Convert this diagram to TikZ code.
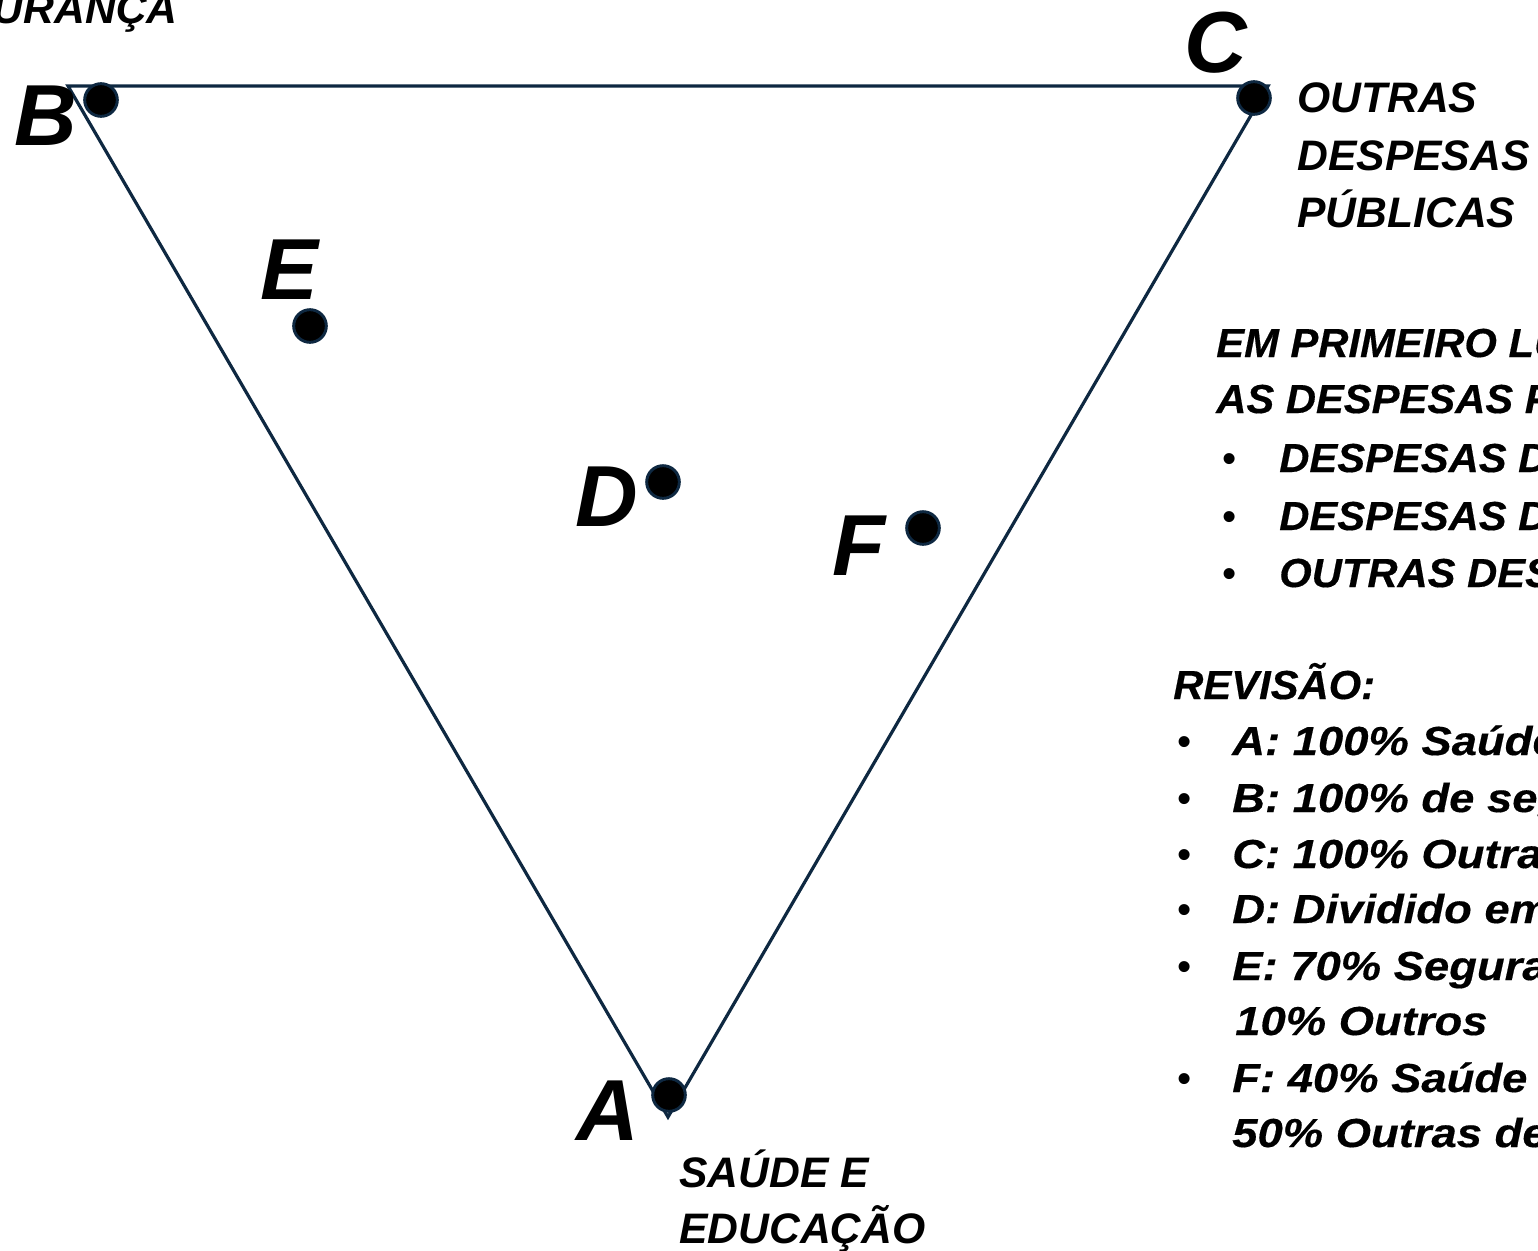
\documentclass[tikz,border=0pt]{standalone}
\usepackage{fontspec}
\setmainfont{Liberation Sans}
\newfontfamily\capfont[FakeStretch=1.03,FakeBold=0.4]{Liberation Sans}
\newfontfamily\widefont[FakeStretch=1.12,FakeBold=0.4]{Liberation Sans}
\definecolor{navy}{HTML}{0E2841}
\begin{document}
\begin{tikzpicture}[x=0.75pt,y=-0.75pt,
  edge/.style={draw=navy,line width=2.4pt,line join=miter},
  dot/.style={circle,fill=black,draw=navy,line width=2.2pt,minimum size=24.5pt,inner sep=0pt},
  big/.style={inner sep=0pt,anchor=base west,font=\fontsize{65}{65}\selectfont\bfseries\itshape},
  lab/.style={inner sep=0pt,anchor=base west,font=\fontsize{32}{32}\selectfont\bfseries\itshape},
  rtxt/.style={inner sep=0pt,anchor=base west,font=\fontsize{30.4}{30.4}\selectfont\capfont\bfseries\itshape},
  rwide/.style={inner sep=0pt,anchor=base west,font=\fontsize{30.4}{30.4}\selectfont\widefont\bfseries\itshape},
  bul/.style={inner sep=0pt,anchor=base west,font=\fontsize{30.4}{30.4}\selectfont}]
\useasboundingbox (0,0) rectangle (1538,1250);
\clip (0,0) rectangle (1538,1250);
\fill[white] (0,0) rectangle (1538,1250);
% triangle vertices
\coordinate (vB) at (68,86);
\coordinate (vC) at (1268,86);
\coordinate (vA) at (668,1117);
\draw[edge] (vB) -- (vC) -- (vA) -- cycle;
% points
\node[dot] (pB) at (101,100) {};
\node[dot] (pC) at (1254,98) {};
\node[dot] (pA) at (669,1095) {};
\node[dot] (pE) at (310,326) {};
\node[dot] (pD) at (663,482) {};
\node[dot] (pF) at (923,528) {};
% letters
\node[big] (lB) at (14,145) {B};
\node[big] (lC) at (1184,72) {C};
\node[big] (lA) at (576,1140) {A};
\node[big] (lE) at (260,299) {E};
\node[big] (lD) at (575,526) {D};
\node[big] (lF) at (832,575) {F};
% corner labels
\node[lab,anchor=base east] (tSeg) at (178,23) {SEGURANÇA};
\node[lab] (tC1) at (1297,112) {OUTRAS};
\node[lab] (tC2) at (1297,170) {DESPESAS};
\node[lab] (tC3) at (1297,227) {PÚBLICAS};
\node[lab] (tA1) at (679,1187) {SAÚDE E};
\node[lab] (tA2) at (679,1243) {EDUCAÇÃO};
% right text, first block
\node[rtxt] (r1) at (1216,357) {EM PRIMEIRO LUGAR, VAMOS SEPARAR};
\node[rtxt] (r2) at (1216,413) {AS DESPESAS PÚBLICAS EM:};
\foreach \yy/\tt [count=\i] in {472/{DESPESAS DE SAÚDE E EDUCAÇÃO},530/{DESPESAS DE SEGURANÇA},587/{OUTRAS DESPESAS PÚBLICAS}}{
  \node[bul] (rb\i) at (1222,\yy) {•};
  \node[rtxt] (rt\i) at (1279,\yy) {\tt};
}
% revision block
\node[rtxt] (rev) at (1173,699) {REVISÃO:};
\foreach \yy/\tt [count=\i] in {755/{A: 100\% Saúde e Educação},812/{B: 100\% de segurança},868/{C: 100\% Outras despesas},923/{D: Dividido em partes iguais},980/{E: 70\% Segurança, 20\% Saúde e},1092/{F: 40\% Saúde e Educação, 10\% Segurança e}}{
  \node[bul] (vb\i) at (1177,\yy) {•};
  \node[rwide] (vt\i) at (1232,\yy) {\tt};
}
\node[rwide] (vt5b) at (1235,1035) {10\% Outros};
\node[rwide] (vt6b) at (1232,1147) {50\% Outras despesas};
\end{tikzpicture}
\end{document}
